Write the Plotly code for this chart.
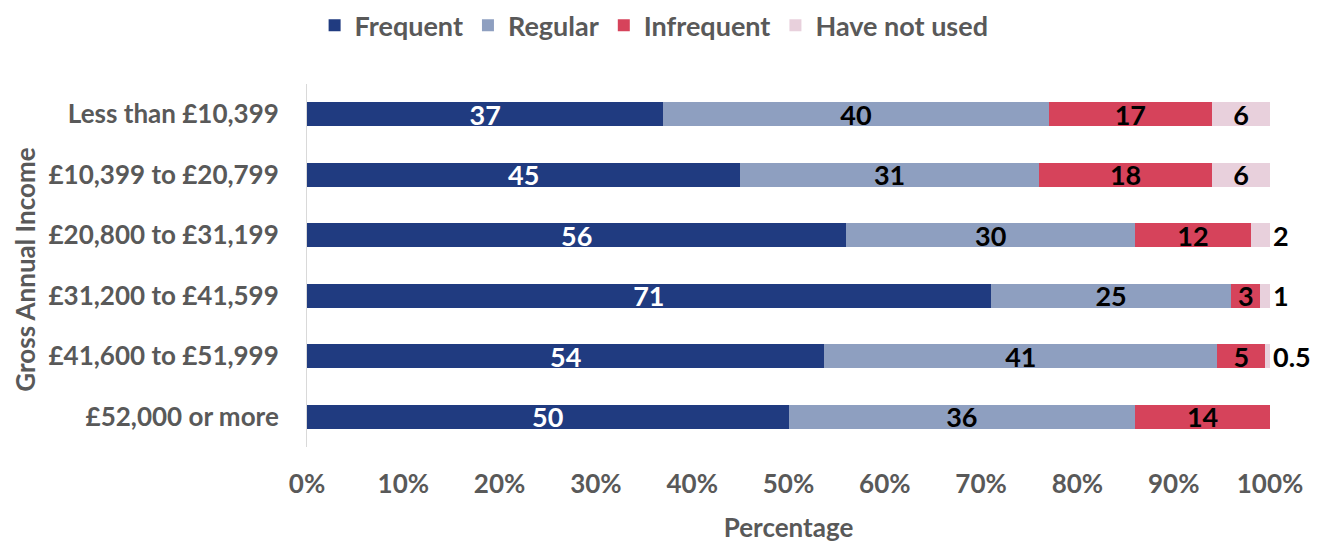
import plotly.graph_objects as go

incomes = ["Less than £10,399", "£10,399 to £20,799", "£20,800 to £31,199",
           "£31,200 to £41,599", "£41,600 to £51,999", "£52,000 or more"]
frequent = [37, 45, 56, 71, 54, 50]
regular = [40, 31, 30, 25, 41, 36]
infrequent = [17, 18, 12, 3, 5, 14]
not_used = [6, 6, 2, 1, 0.5, None]

series = [
    ("Frequent", frequent, "#203b80", "white"),
    ("Regular", regular, "#8e9fc0", "black"),
    ("Infrequent", infrequent, "#d6435b", "black"),
    ("Have not used", not_used, "#e8d0dc", "black"),
]

FONT = "Lato"

fig = go.Figure()
for name, vals, color, tcolor in series:
    labels = ["" if v is None else f"{v:g}" for v in vals]
    if name == "Have not used":
        pos = ["inside" if (v is not None and v >= 5) else "outside" for v in vals]
    else:
        pos = "inside"
    fig.add_trace(go.Bar(
        y=incomes, x=vals, name=name, orientation="h",
        marker=dict(color=color, line=dict(width=0)),
        text=labels, texttemplate="%{text}", textposition=pos, textangle=0,
        insidetextanchor="middle", constraintext="none", cliponaxis=False,
        textfont=dict(family=FONT, size=27, color=tcolor, weight="bold"),
        outsidetextfont=dict(family=FONT, size=27, color="black", weight="bold"),
    ))

grey = "#595959"
# page body has an 8px margin, so the figure is drawn 8px in from the window edge
fig.update_layout(
    barmode="stack", barnorm="percent", bargap=0.6,
    width=1324, height=537,
    margin=dict(l=299, r=62, t=76, b=98, autoexpand=False),
    plot_bgcolor="white", paper_bgcolor="white",
    font=dict(family=FONT, color=grey),
    legend=dict(orientation="h", xref="container", yref="paper",
                x=0.488, xanchor="center", y=1.228, yanchor="top",
                font=dict(size=27, color=grey, weight="bold"),
                itemwidth=30, traceorder="normal"),
    xaxis=dict(range=[0, 100], dtick=10, ticksuffix="%", showgrid=False,
               zeroline=False, automargin=False, ticklabelstandoff=19,
               tickfont=dict(size=26, color=grey, weight="bold"),
               title=dict(text="Percentage", font=dict(size=26, color=grey, weight="bold"),
                          standoff=20)),
    yaxis=dict(autorange="reversed", showgrid=False, showline=True, automargin=False,
               linecolor="#d9d9d9", linewidth=1, ticklabelstandoff=22,
               tickfont=dict(size=26, color=grey, weight="bold")),
)

# y-axis title as a rotated annotation
fig.add_annotation(text="Gross Annual Income", textangle=-90, showarrow=False,
                   xref="paper", yref="paper", x=-0.293, y=0.488,
                   xanchor="center", yanchor="middle",
                   font=dict(size=26, color=grey, weight="bold", family=FONT))

fig.write_html("out.html")
